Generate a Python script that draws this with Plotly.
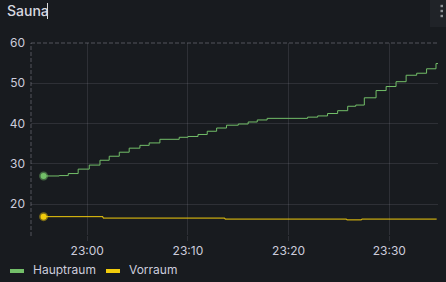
import plotly.graph_objects as go

DAY = "2024-01-01 "

# ---- data ----
haupt_time = ["22:55:40", "22:57:13", "22:58:07", "22:59:06", "23:00:12", "23:01:16",
              "23:02:11", "23:03:11", "23:04:10", "23:05:14", "23:06:09", "23:07:13",
              "23:09:08", "23:10:00", "23:11:00", "23:11:55", "23:12:51", "23:13:50",
              "23:15:00", "23:15:59", "23:16:53", "23:17:52", "23:21:53", "23:22:53",
              "23:23:52", "23:24:52", "23:25:52", "23:26:40", "23:27:31", "23:28:41",
              "23:29:41", "23:30:40", "23:31:40", "23:32:43", "23:33:42", "23:34:38",
              "23:34:50"]
haupt_vals = [27.0, 27.1, 27.6, 28.7, 29.7, 30.9, 31.9, 32.9, 33.9, 34.6, 35.2, 36.1,
              36.6, 36.8, 37.3, 38.1, 38.9, 39.6, 39.9, 40.4, 40.9, 41.3, 41.6, 41.9,
              42.5, 43.2, 44.3, 44.6, 46.4, 48.2, 49.2, 50.4, 52.0, 52.5, 53.6, 54.9,
              54.9]

vor_time = ["22:55:40", "23:01:34", "23:13:40", "23:25:46", "23:27:15", "23:34:42"]
vor_vals = [16.9, 16.55, 16.3, 16.1, 16.3, 16.3]

series_names = ["Hauptraum", "Vorraum"]
x_ticks = ["23:00", "23:10", "23:20", "23:30"]
y_ticks_grid = [20, 30, 40, 50]
y_tick_top = [60]
x_range = ["22:54:25", "23:34:50"]
y_range = [12.35, 60]
title_text = "Sauna"

# ---- styling ----
BG = "#181b1f"
TXT = "#ccccdc"
GRID = "rgba(204,204,220,0.12)"
DASH = "rgba(204,204,220,0.32)"
GREEN = "#73BF69"
YELLOW = "#F2CC0C"
FONT = "Inter"

W, H = 446, 282
L, R, T, B = 31, 8, 43, 47
PW, PH = W - L - R, H - T - B


def px(x):
    return (x - L) / PW


def py(y):
    return (H - B - y) / PH


fig = go.Figure()

ht = [DAY + t for t in haupt_time]
vt = [DAY + t for t in vor_time]

for name, t, v, col, rgba in [
    (series_names[0], ht, haupt_vals, GREEN, "rgba(115,191,105,0.45)"),
    (series_names[1], vt, vor_vals, YELLOW, "rgba(242,204,12,0.45)"),
]:
    fig.add_trace(go.Scatter(x=t, y=v, mode="lines", name=name,
                             line=dict(color=col, width=1, shape="hv"),
                             showlegend=False, hoverinfo="skip"))
    fig.add_trace(go.Scatter(x=t[:1], y=v[:1], mode="markers", name=name,
                             marker=dict(color=col, size=6,
                                         line=dict(color=rgba, width=3)),
                             showlegend=False, hoverinfo="skip"))

# overlay axis to label 60 without a solid gridline
fig.add_trace(go.Scatter(x=[DAY + x_range[0]], y=[y_tick_top[0]], yaxis="y2",
                         mode="markers", marker=dict(opacity=0),
                         showlegend=False, hoverinfo="skip"))

fig.update_layout(
    width=W, height=H,
    margin=dict(l=L, r=R, t=T, b=B),
    paper_bgcolor=BG, plot_bgcolor=BG,
    font=dict(family=FONT, size=12, color=TXT),
    title=dict(text=title_text, x=7 / W, xanchor="left", y=1 - 11.5 / H,
               yanchor="middle", font=dict(family=FONT, size=14, color="#d8d9e0",
                                            weight=500)),
    xaxis=dict(type="date", range=[DAY + x_range[0], DAY + x_range[1]],
               tickvals=[DAY + t for t in x_ticks], ticktext=x_ticks,
               showgrid=True, gridcolor=GRID, gridwidth=1,
               ticks="outside", ticklen=5, tickcolor=GRID,
               showline=False, zeroline=False,
               tickfont=dict(family=FONT, size=12, color=TXT)),
    yaxis=dict(range=y_range, tickvals=y_ticks_grid,
               showgrid=True, gridcolor=GRID, gridwidth=1,
               showline=False, zeroline=False, ticks="",
               ticklabelstandoff=5,
               tickfont=dict(family=FONT, size=12, color=TXT)),
    yaxis2=dict(range=y_range, overlaying="y", side="left", tickvals=y_tick_top,
                showgrid=False, showline=False, zeroline=False, ticks="",
                ticklabelstandoff=5,
                tickfont=dict(family=FONT, size=12, color=TXT)),
    hovermode=False,
)

shapes = [
    # dashed top and left borders
    dict(type="line", xref="paper", yref="paper", x0=0, x1=1, y0=1, y1=1,
         line=dict(color=DASH, width=1, dash="4px,2px")),
    dict(type="line", xref="paper", yref="paper", x0=0, x1=0, y0=py(236), y1=1,
         line=dict(color=DASH, width=1, dash="4px,2px")),
    # text cursor after title
    dict(type="line", xref="paper", yref="paper", x0=px(47.5), x1=px(47.5),
         y0=py(3), y1=py(19), line=dict(color="#d8d9da", width=1)),
    # panel menu box
    dict(type="rect", xref="paper", yref="paper", x0=px(430), x1=px(447),
         y0=py(27), y1=py(-1), fillcolor="#202328", line=dict(width=0), layer="below"),
]
for dy in (6, 11, 16):
    shapes.append(dict(type="rect", xref="paper", yref="paper",
                       x0=px(440.5), x1=px(443), y0=py(dy + 1.2), y1=py(dy - 1.2),
                       fillcolor="#8e9297", line=dict(width=0)))

# manual legend
legend_items = [(series_names[0], GREEN, 10), (series_names[1], YELLOW, 106)]
annotations = []
for name, col, x0 in legend_items:
    shapes.append(dict(type="rect", xref="paper", yref="paper",
                       x0=px(x0), x1=px(x0 + 14), y0=py(273), y1=py(269),
                       fillcolor=col, line=dict(width=0)))
    annotations.append(dict(text=name, xref="paper", yref="paper",
                            x=px(x0 + 21), y=py(269.5), xanchor="left",
                            yanchor="middle", showarrow=False,
                            font=dict(family=FONT, size=12, color=TXT)))

fig.update_layout(shapes=shapes, annotations=annotations)

fig.write_html("out.html")
